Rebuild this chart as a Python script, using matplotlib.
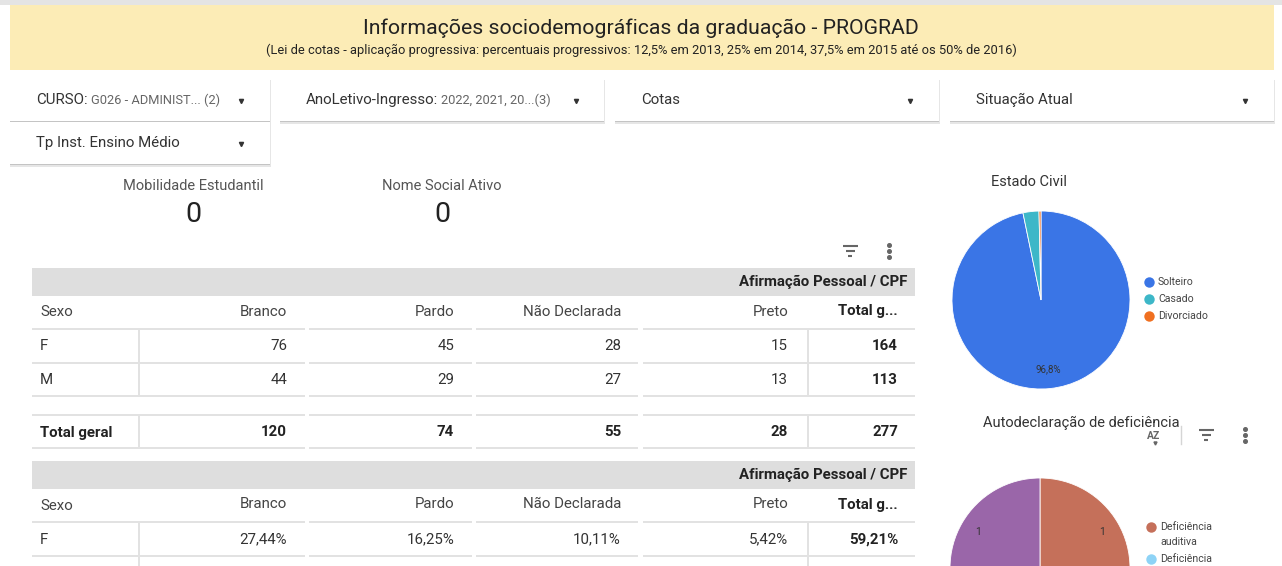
import matplotlib
matplotlib.use('Agg')
import matplotlib.pyplot as plt
from matplotlib.patches import Rectangle

plt.rcParams['font.family'] = ['Roboto', 'DejaVu Sans']

W, H = 1282, 566

# ---------------- data ----------------
title = "Informações sociodemográficas da graduação - PROGRAD"
subtitle = ("(Lei de cotas - aplicação progressiva: percentuais progressivos: "
            "12,5% em 2013, 25% em 2014, 37,5% em 2015 até os 50% de 2016)")

filter_names = ["CURSO:", "AnoLetivo-Ingresso:", "Cotas", "Situação Atual", "Tp Inst. Ensino Médio"]
filter_values = ["G026 - ADMINIST... (2)", "2022, 2021, 20...(3)", "", "", ""]

kpi_labels = ["Mobilidade Estudantil", "Nome Social Ativo"]
kpi_values = [0, 0]

group_header = "Afirmação Pessoal / CPF"
row_header = "Sexo"
race_cols = ["Branco", "Pardo", "Não Declarada", "Preto"]
total_header = "Total g..."
sexes = ["F", "M"]
counts_F = [76, 45, 28, 15]
counts_M = [44, 29, 27, 13]
row_totals = [164, 113]
col_totals = [120, 74, 55, 28]
grand_total = 277
total_label = "Total geral"
pct_F = ["27,44%", "16,25%", "10,11%", "5,42%"]
pct_M = ["15,88%", "10,47%", "9,75%", "4,69%"]
pct_row_totals = ["59,21%", "40,79%"]

civil_title = "Estado Civil"
civil_labels = ["Solteiro", "Casado", "Divorciado"]
civil_values = [268, 8, 1]
civil_colors = ["#3a75e6", "#3db7c8", "#f07021"]

def_title = "Autodeclaração de deficiência"
def_labels = ["Deficiência\nauditiva", "Deficiência\nfísica", "Deficiência\nvisual"]
def_values = [1, 1, 1]
def_colors = ["#c5705a", "#8ed3f6", "#9a66a9"]

# ---------------- figure ----------------
fig = plt.figure(figsize=(W / 100, H / 100), dpi=100)
ax = fig.add_axes([0, 0, 1, 1])
ax.set_xlim(0, W)
ax.set_ylim(H, 0)
ax.axis('off')

TXT = '#333333'
LINE = '#e2e2e2'

# header banner
ax.add_patch(Rectangle((0, 0), W, 4.5, color='#e4e4e4', lw=0))
ax.add_patch(Rectangle((10, 5), 1264, 65, color='#fcecb6', lw=0))
ax.text(641, 28, title, ha='center', va='center', fontsize=15.3, color='#222222')
ax.text(641, 50, subtitle, ha='center', va='center', fontsize=9.3, color='#222222')

# filter cards
cards = [(10, 79, 260, 42, 36, 241), (280, 79, 324, 42, 306, 576),
         (615, 79, 324, 42, 641, 910), (950, 79, 324, 42, 976, 1245),
         (10, 122, 260, 42, 36, 241)]
renderer = fig.canvas.get_renderer()
for (x0, y0, w, h, tx, axx), name, val in zip(cards, filter_names, filter_values):
    ax.add_patch(Rectangle((x0 - 0.5, y0 + 0.5), w + 1, h + 2, color='#e6e6e6', lw=0, zorder=1))
    ax.add_patch(Rectangle((x0, y0 + 1), w, h, color='#c4c4c4', lw=0, zorder=1))
    ax.add_patch(Rectangle((x0, y0), w, h, color='white', lw=0, zorder=2))
    ty = y0 + 21
    t = ax.text(tx, ty, name, ha='left', va='center', fontsize=10.8, color=TXT, zorder=3)
    if val:
        bb = t.get_window_extent(renderer)
        ax.text(bb.x1 + 3, ty + 0.5, val, ha='left', va='center', fontsize=9.3,
                color='#666666', zorder=3)
    ax.plot(axx, ty + 1, marker='v', ms=3.0, color='#333333', zorder=3)

# KPIs
for cx, lab, v in zip([193, 442], kpi_labels, kpi_values):
    ax.text(cx, 186, lab, ha='center', va='center', fontsize=10.5, color='#555555')
    ax.text(cx, 215, str(v), ha='center', va='center', fontsize=20.5, color='#222222')


def filter_icon(x, y):
    for dy, hw in [(-5, 7.5), (0, 4.5), (5, 1.8)]:
        ax.plot([x - hw, x + hw], [y + dy, y + dy], color='#666666', lw=1.5,
                solid_capstyle='butt')


def kebab(x, y):
    for dy in (-6, 0, 6):
        ax.plot(x, y + dy, marker='o', ms=2.6, color='#666666')


filter_icon(850, 251)
kebab(889, 251)

# ---------------- tables ----------------
col_x = [287, 454, 621, 788]
tot_x = 898
sexo_x = 40
segments = [(32, 305), (309, 472), (476, 638), (643, 915)]
vlines = [139, 808]
FS = 10.8


def hline(y):
    for a, b in segments:
        ax.plot([a, b], [y, y], color=LINE, lw=1.4, solid_capstyle='butt', zorder=1)


def vline(y0, y1):
    for x in vlines:
        ax.plot([x, x], [y0, y1], color=LINE, lw=1.4, solid_capstyle='butt', zorder=1)


def table(y_band, body_rows, total_row):
    ax.add_patch(Rectangle((32, y_band), 883, 28, color='#dedede', lw=0))
    ax.text(907, y_band + 14, group_header, ha='right', va='center', fontsize=FS,
            color='#222222', fontweight='bold')
    yh = y_band + 43.5
    ax.text(sexo_x, yh + 1, row_header, ha='left', va='center', fontsize=FS, color='#444444')
    for x, c in zip(col_x, race_cols):
        ax.text(x, yh, c, ha='right', va='center', fontsize=FS, color='#444444')
    ax.text(tot_x, yh, total_header, ha='right', va='center', fontsize=FS,
            color='#222222', fontweight='bold')
    y_line = y_band + 61
    hline(y_line)
    y = y_line
    for lab, vals, tot in body_rows:
        yc = y + 17.5
        ax.text(sexo_x, yc, lab, ha='left', va='center', fontsize=FS, color=TXT)
        for x, v in zip(col_x, vals):
            ax.text(x, yc, str(v), ha='right', va='center', fontsize=FS, color=TXT)
        ax.text(tot_x, yc, str(tot), ha='right', va='center', fontsize=FS,
                color='#222222', fontweight='bold')
        y = y + 33.5
        hline(y)
    vline(y_line, y)
    if total_row is not None:
        lab, vals, tot = total_row
        y0 = y + 19
        hline(y0)
        yc = y0 + 17.5
        ax.text(sexo_x, yc, lab, ha='left', va='center', fontsize=FS,
                color='#222222', fontweight='bold')
        for x, v in zip(col_x, vals):
            ax.text(x, yc, str(v), ha='right', va='center', fontsize=FS,
                    color='#222222', fontweight='bold')
        ax.text(tot_x, yc, str(tot), ha='right', va='center', fontsize=FS,
                color='#222222', fontweight='bold')
        y1 = y0 + 33
        hline(y1)
        vline(y0, y1)


table(268, [(sexes[0], counts_F, row_totals[0]), (sexes[1], counts_M, row_totals[1])],
      (total_label, col_totals, grand_total))
table(461, [(sexes[0], pct_F, pct_row_totals[0]), (sexes[1], pct_M, pct_row_totals[1])], None)

# ---------------- pies ----------------
def pie_axes(cx, cy, r):
    return fig.add_axes([(cx - r) / W, 1 - (cy + r) / H, 2 * r / W, 2 * r / H])


def legend(x, y0, labels, colors, step):
    y = y0
    for lab, col in zip(labels, colors):
        lines = lab.split('\n')
        if y <= H:
            ax.plot(x, y, marker='o', ms=7.5, color=col, mec='none')
        for k, line in enumerate(lines):
            if y + k * 15 <= H - 4:
                ax.text(x + 9, y + k * 15, line, ha='left', va='center', fontsize=7.6,
                        color='#444444')
        y += 15 * (len(lines) - 1) + step


def hide_offcanvas(texts):
    for t in texts:
        fig.canvas.draw()
        bb = t.get_window_extent(fig.canvas.get_renderer())
        if bb.y1 < 0:
            t.set_visible(False)


# Estado Civil
ax.text(1029, 182, civil_title, ha='center', va='center', fontsize=10.5, color=TXT)
pa = pie_axes(1041, 300, 89)
tot_c = sum(civil_values)
pa.pie(civil_values, colors=civil_colors, startangle=90, counterclock=False,
       autopct=lambda p: (f"{p:.1f}%".replace('.', ',') if p > 10 else ''),
       pctdistance=0.78, wedgeprops=dict(edgecolor='white', linewidth=0.6),
       textprops=dict(fontsize=7, color='#333333'))
pa.set_xlim(-1, 1)
pa.set_ylim(-1, 1)
pa.axis('off')
legend(1149, 282, civil_labels, civil_colors, 17)

# Autodeclaração de deficiência
ax.text(1081, 423, def_title, ha='center', va='center', fontsize=10.5, color=TXT, zorder=4)
ax.text(1154, 436, "AZ", ha='center', va='center', fontsize=7.5, color='#666666',
        fontweight='bold', zorder=5)
ax.plot(1155, 443, marker='v', ms=2.2, color='#666666', zorder=5)
ax.plot([1181, 1181], [426, 444], color='#d5d5d5', lw=1)
filter_icon(1206, 435)
kebab(1245, 435)
pb = pie_axes(1040, 568, 90)
tot_d = sum(def_values)
_, _, def_auto = pb.pie(def_values, colors=def_colors, startangle=90, counterclock=False,
                        autopct=lambda p: f"{p * tot_d / 100:.0f}",
                        pctdistance=0.8, wedgeprops=dict(edgecolor='white', linewidth=0.6),
                        textprops=dict(fontsize=7.5, color='#333333'))
pb.set_xlim(-1, 1)
pb.set_ylim(-1, 1)
pb.axis('off')
hide_offcanvas(def_auto)
legend(1151, 527, def_labels, def_colors, 17)

fig.savefig('out.png', dpi=100)
